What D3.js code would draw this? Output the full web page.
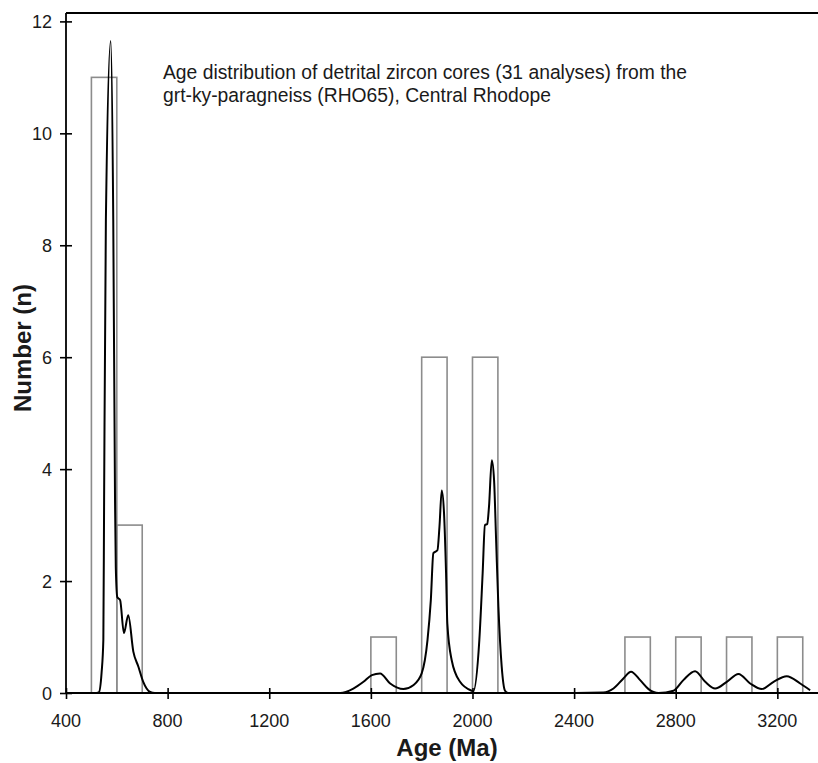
<!DOCTYPE html>
<html>
  <head>
    <title>Detrital zircon ages</title>
    <script src="https://d3js.org/d3.v7.min.js"></script>
    <style>
      html, body { margin: 0; padding: 0; background: #fff; overflow: hidden; }
      svg { display: block; }
      text { font-family: "Liberation Sans", Arial, sans-serif; fill: #1a1a1a; }
    </style>
  </head>
  <body>
    <svg width="818" height="763" id="mainsvg"></svg>
    <script>
        // histogram bins (Ma) and counts
        const binStart = [500, 600, 1600, 1800, 2000, 2600, 2800, 3000, 3200];
        const binCount = [11, 3, 1, 6, 6, 1, 1, 1, 1];
        const binWidth = 100;

        // probability curve
        const curveAge = [520, 529, 540, 547, 550, 557, 576, 586, 593, 596, 602, 613, 628, 645, 665, 685, 704, 731, 750,
          1100, 1480, 1531, 1571, 1604, 1636, 1676, 1728, 1767, 1800, 1823, 1836, 1846, 1862, 1870, 1879, 1888, 1896,
          1901, 1918, 1951, 1997, 2003, 2027, 2040, 2049, 2058, 2065, 2076, 2085, 2093, 2102, 2115, 2128, 2140,
          2300, 2515, 2555, 2594, 2624, 2660, 2693, 2732, 2791, 2830, 2876, 2916, 2955, 3001, 3047, 3093, 3139, 3185,
          3237, 3290, 3329, 3370, 3400];
        const curveVal = [0, 0.01, 0.36, 0.95, 3.45, 8.45, 11.65, 8.45, 3.45, 2.25, 1.71, 1.66, 1.07, 1.39, 0.74, 0.47, 0.2, 0.02, 0,
          0, 0, 0.08, 0.2, 0.32, 0.35, 0.17, 0.07, 0.14, 0.35, 0.95, 1.66, 2.5, 2.55, 2.97, 3.62, 3.21, 2.14,
          1.24, 0.59, 0.2, 0.04, 0.03, 0.95, 2.14, 3.0, 3.02, 3.33, 4.16, 3.8, 2.73, 1.54, 0.47, 0.04, 0,
          0, 0.01, 0.08, 0.26, 0.38, 0.23, 0.07, 0.0, 0.04, 0.23, 0.39, 0.2, 0.08, 0.2, 0.34, 0.17, 0.07, 0.2,
          0.3, 0.17, 0.05, 0, 0];

        const xMajor = [400, 800, 1200, 1600, 2000, 2400, 2800, 3200];
        const yMajor = [0, 2, 4, 6, 8, 10, 12];

        const title1 = 'Age distribution of detrital zircon cores (31 analyses) from the';
        const title2 = 'grt-ky-paragneiss (RHO65), Central Rhodope';

        const svg = d3.select('#mainsvg');
        const margin = {top: 13, left: 66, bottom: 70};
        const height = +svg.attr('height');
        const innerHeight = height - margin.top - margin.bottom;
        const innerWidth = 752;   // plot runs past the picture edge, 3360 Ma is where it is cut
        const xMax = 3360;

        // scales in page coordinates
        const xScale = d3.scaleLinear().domain([400, xMax]).range([margin.left, margin.left + innerWidth]);
        const yScale = d3.scaleLinear().domain([0, 12.15]).range([margin.top + innerHeight, margin.top]);
        const y0 = yScale(0);

        // bars
        const bins = binStart.map((s, i) => ({start: s, n: binCount[i]}));
        svg.selectAll('.bin').data(bins).join('rect').attr('class', 'bin')
          .attr('x', d => xScale(d.start))
          .attr('y', d => yScale(d.n))
          .attr('width', d => xScale(d.start + binWidth) - xScale(d.start))
          .attr('height', d => y0 - yScale(d.n))
          .attr('fill', 'none').attr('stroke', '#8c8c8c').attr('stroke-width', 1.6);

        // x axis: minor ticks every 100 outward, major every 400 crossing
        const xMinor = d3.range(500, xMax, 100).filter(v => !xMajor.includes(v));
        const xg = svg.append('g').attr('transform', `translate(0, ${y0})`);
        xg.call(d3.axisBottom(xScale).tickValues(xMinor).tickSize(5).tickFormat(''));
        xg.selectAll('.tick text').remove();
        xg.call(d3.axisBottom(xScale).tickValues(xMajor).tickSize(6).tickFormat(''));
        xg.selectAll('.tick text').remove();
        xg.selectAll('.tick line').attr('stroke-width', 1.6);
        xg.selectAll('.tick').filter(d => xMajor.includes(d)).select('line').attr('y1', -5).attr('y2', 6);

        // y axis: minor ticks inward, major crossing
        const yMinor = [1, 3, 5, 7, 9, 11];
        const yg = svg.append('g').attr('transform', `translate(${margin.left}, 0)`);
        yg.call(d3.axisLeft(yScale).tickValues(yMinor).tickSize(-6).tickFormat(''));
        yg.selectAll('.tick text').remove();
        yg.call(d3.axisLeft(yScale).tickValues(yMajor).tickSize(6).tickFormat(''));
        yg.selectAll('.tick text').remove();
        yg.selectAll('.tick line').attr('stroke-width', 1.6);
        yg.selectAll('.tick').filter(d => yMajor.includes(d)).select('line').attr('x1', -6).attr('x2', 6);
        svg.selectAll('.domain').remove();

        // tick labels
        svg.selectAll('.xlab').data(xMajor).join('text').attr('class', 'xlab')
          .attr('x', d => xScale(d)).attr('y', y0 + 34)
          .attr('text-anchor', 'middle').attr('font-size', 18).text(d => d);
        svg.selectAll('.ylab').data(yMajor).join('text').attr('class', 'ylab')
          .attr('x', margin.left - 14).attr('y', d => yScale(d) + 6.5)
          .attr('text-anchor', 'end').attr('font-size', 18).text(d => d);

        // frame
        svg.append('line').attr('x1', margin.left).attr('x2', margin.left).attr('y1', margin.top).attr('y2', y0)
          .attr('stroke', '#000').attr('stroke-width', 1.8);
        svg.append('line').attr('x1', margin.left).attr('x2', margin.left + innerWidth).attr('y1', y0).attr('y2', y0)
          .attr('stroke', '#000').attr('stroke-width', 1.8);
        svg.append('line').attr('x1', margin.left).attr('x2', margin.left + innerWidth).attr('y1', margin.top).attr('y2', margin.top)
          .attr('stroke', '#000').attr('stroke-width', 1.8);

        // curve
        const pts = curveAge.map((a, i) => [a, curveVal[i]]).filter(d => d[0] <= xMax);
        const line = d3.line().x(d => xScale(d[0])).y(d => yScale(d[1])).curve(d3.curveMonotoneX);
        svg.append('path').datum(pts).attr('d', line)
          .attr('fill', 'none').attr('stroke', '#000').attr('stroke-width', 2);

        // titles
        svg.append('text').attr('x', 163).attr('y', 79).attr('font-size', 19.3).text(title1);
        svg.append('text').attr('x', 163).attr('y', 102).attr('font-size', 19.3).text(title2);

        svg.append('text').text('Age (Ma)').attr('x', 447).attr('y', 756)
          .attr('text-anchor', 'middle').attr('font-size', 24).attr('font-weight', 'bold');
        svg.append('text').text('Number (n)')
          .attr('transform', `translate(31, 348) rotate(-90)`)
          .attr('text-anchor', 'middle').attr('font-size', 24).attr('font-weight', 'bold');
    </script>
  </body>
</html>
